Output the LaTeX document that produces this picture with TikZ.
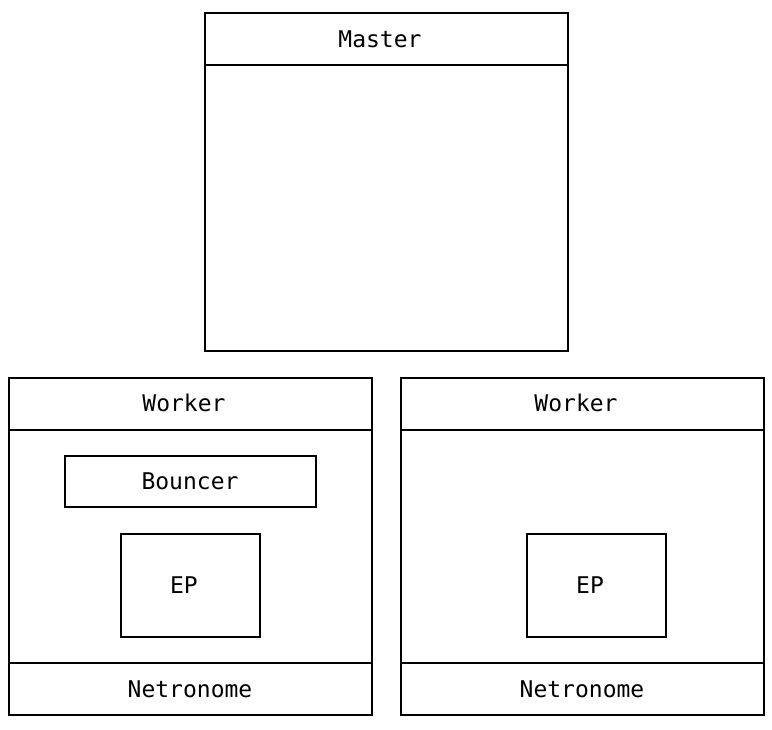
\documentclass[tikz,border=0pt]{standalone}
\usepackage{fontspec}
\setmonofont{DejaVu Sans Mono}
\begin{document}
\begin{tikzpicture}[x=1pt,y=-1pt,
  box/.style={draw=black,line width=2pt,inner sep=0pt},
  lbl/.style={font=\ttfamily\fontsize{23}{26}\selectfont,inner sep=0pt,anchor=center},
  divline/.style={draw=black,line width=2pt}]
\useasboundingbox (0,0) rectangle (772,730);
% Master
\node[box,minimum width=363pt,minimum height=338pt] (master) at (386.5,182) {};
\draw[divline] (205,65) -- (568,65);
\node[lbl] (mastert) at (380,39) {Master};
% Left worker
\node[box,minimum width=363pt,minimum height=337pt] (w1) at (190.5,546.5) {};
\draw[divline] (9,430) -- (372,430);
\draw[divline] (9,663) -- (372,663);
\node[lbl] (w1t) at (184,403) {Worker};
\node[box,minimum width=251pt,minimum height=51pt] (bouncer) at (190.5,481.5) {};
\node[lbl] (bouncert) at (190,481) {Bouncer};
\node[box,minimum width=139pt,minimum height=103pt] (ep1) at (190.5,585.5) {};
\node[lbl] (ep1t) at (184,585) {EP};
\node[lbl] (n1t) at (190,689) {Netronome};
% Right worker
\node[box,minimum width=363pt,minimum height=337pt] (w2) at (582.5,546.5) {};
\draw[divline] (401,430) -- (764,430);
\draw[divline] (401,663) -- (764,663);
\node[lbl] (w2t) at (576,403) {Worker};
\node[box,minimum width=139pt,minimum height=103pt] (ep2) at (596.5,585.5) {};
\node[lbl] (ep2t) at (590,585) {EP};
\node[lbl] (n2t) at (582,689) {Netronome};
\end{tikzpicture}
\end{document}
